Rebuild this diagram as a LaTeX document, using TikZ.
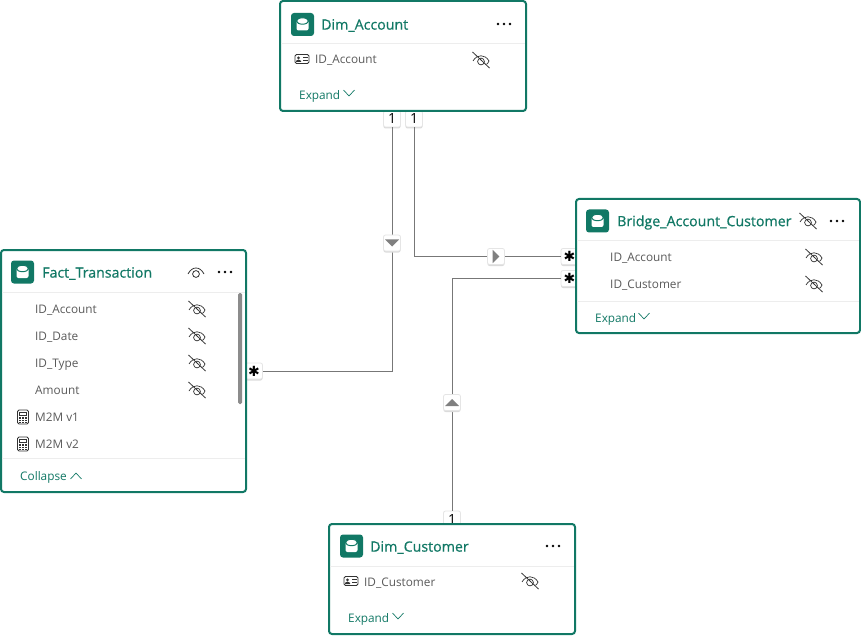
\documentclass[tikz,border=0pt]{standalone}
\usepackage{fontspec}
\setmainfont{Open Sans}
\newfontfamily\starfont{DejaVu Sans}
\newfontfamily\titlefont[FakeBold=0.6]{Open Sans}
\usetikzlibrary{calc,shadows}
\definecolor{tealline}{HTML}{117865}
\definecolor{fieldgray}{HTML}{5A5A5A}
\definecolor{linegray}{HTML}{777777}
\definecolor{iconblack}{HTML}{333333}
\tikzset{
	tablebox/.style={draw=tealline, line width=2pt, rounded corners=3pt, fill=white, inner sep=0pt},
	titletext/.style={anchor=west, inner sep=0pt, text=tealline, font=\titlefont\fontsize{14.2}{16}\selectfont},
	fieldtext/.style={anchor=west, inner sep=0pt, text height=10pt, text depth=2pt, text=fieldgray, font=\fontsize{11.8}{14}\selectfont},
	linktext/.style={anchor=west, inner sep=0pt, text=tealline, font=\fontsize{11.8}{14}\selectfont},
	badge/.style={draw=black!10, line width=0.8pt, fill=white, rounded corners=2pt, minimum width=17pt, minimum height=16pt, inner sep=0pt, font=\fontsize{14}{14}\selectfont, text=black, general shadow={shadow yshift=-1.5pt, fill=black!14}},
	starbadge/.style={badge, font=\starfont\fontsize{14}{14}\selectfont},
	relation/.style={line width=1pt, color=linegray},
	divider/.style={line width=0.8pt, color=black!7},
	databaseicon/.pic={
		\fill[tealline, rounded corners=3pt] (-11.5,-11.5) rectangle (11.5,11.5);
		\fill[white, rounded corners=2pt] (-6,-4) rectangle (6,6);
		\draw[tealline, line width=1pt, fill=white] (0,-3.5) ellipse [x radius=6pt, y radius=3.2pt];
	},
	eyeoff/.pic={
		\draw[iconblack, line width=0.7pt] (-8,1) .. controls (-4,-6) and (4,-6) .. (8,1) .. controls (7.5,2) and (6.5,4) .. (5.5,4.5);
		\draw[iconblack, line width=0.7pt] (0,1.5) circle [radius=3.4pt];
		\draw[iconblack, line width=0.8pt] (-8.5,-8) -- (8.5,8);
	},
	eyeon/.pic={
		\draw[iconblack, line width=0.8pt] (-8,2) .. controls (-4,-6) and (4,-6) .. (8,2);
		\draw[iconblack, line width=0.8pt] (0,2) circle [radius=3.4pt];
	},
	moredots/.pic={
		\foreach \dx in {-6,0,6} \fill[black] (\dx,0) circle [radius=1.4pt];
	},
	idcard/.pic={
		\draw[iconblack, line width=0.8pt, rounded corners=1.5pt] (-7,-4.5) rectangle (7,4.5);
		\fill[iconblack] (-3.5,-1.2) circle [radius=1.5pt];
		\fill[iconblack] (-6,3) -- (-6,1.8) -- (-3.5,0.6) -- (-1,1.8) -- (-1,3) -- cycle;
		\draw[iconblack, line width=0.7pt] (1,-1.5) -- (5.5,-1.5) (1,1.5) -- (5.5,1.5);
	},
	calcicon/.pic={
		\draw[iconblack, line width=0.8pt, rounded corners=1.5pt] (-5.5,-7) rectangle (5.5,7);
		\draw[iconblack, line width=0.7pt] (-3.2,-4.5) rectangle (3.2,-1.8);
		\foreach \dx in {-3,0,3} \foreach \dy in {1,3.2,5.2} \fill[iconblack] (\dx-0.8,\dy-0.7) rectangle (\dx+0.8,\dy+0.7);
	},
	chevrondown/.pic={\draw[tealline, line width=0.7pt] (-5.5,-2.8) -- (0,2.8) -- (5.5,-2.8);},
	chevronup/.pic={\draw[tealline, line width=0.7pt] (-5.5,2.8) -- (0,-2.8) -- (5.5,2.8);},
	dirmark/.pic={\fill[black!50] (-7,3.5) -- (7,3.5) -- (0,-3.5) -- cycle;}
}
\begin{document}
\begin{tikzpicture}[x=1pt, y=-1pt]
	\useasboundingbox (0,0) rectangle (861,636);
	%%%%% BADGES AND RELATIONS %%%%%
	\node[badge] (oneaccounta) at (392,119) {1};
	\node[badge] (oneaccountb) at (414,119) {1};
	\node[badge] (onecustomer) at (452,519) {1};
	\node[starbadge] (starfact) at (254,371) {✱};
	\node[starbadge] (starbridgea) at (569.5,256.5) {✱};
	\node[starbadge] (starbridgeb) at (569.5,278.5) {✱};
	
	\draw[relation] (oneaccounta.south) |- (starfact.east);
	\draw[relation] (oneaccountb.south) |- (starbridgea.west);
	\draw[relation] (onecustomer.north) |- (starbridgeb.west);
	
	\node[badge] (dirfact) at (392,243) {};
	\pic[rotate=180] at (392,243) {dirmark};
	\node[badge] (dirbridge) at (496,256.5) {};
	\pic[rotate=270, scale=0.95] at (496,256.5) {dirmark};
	\node[badge] (dircustomer) at (452,402.5) {};
	\pic at (452,402.5) {dirmark};
	
	%%%%% DIM ACCOUNT %%%%%
	\node[tablebox, minimum width=246pt, minimum height=110pt] (dimaccount) at (403,56) {};
	\draw[divider] (281,43) -- (525,43);
	\pic at (302.5,24.5) {databaseicon};
	\node[titletext] (dimaccounttitle) at (321,25.5) {Dim\_Account};
	\pic at (504,24) {moredots};
	\pic at (302,59) {idcard};
	\node[fieldtext] (dimaccountid) at (315,60) {ID\_Account};
	\pic at (481,60) {eyeoff};
	\node[linktext] (dimaccountmore) at (299,96) {Expand};
	\pic at (349,93) {chevrondown};
	
	%%%%% FACT TRANSACTION %%%%%
	\node[tablebox, minimum width=245pt, minimum height=242pt] (fact) at (123.5,371) {};
	\draw[divider] (2,292) -- (245,292);
	\draw[divider] (2,458) -- (245,458);
	\pic at (22.5,272) {databaseicon};
	\node[titletext] (facttitle) at (42,273.5) {Fact\_Transaction};
	\pic at (196,272) {eyeon};
	\pic at (225,272) {moredots};
	\node[fieldtext] (factaccount) at (35,309) {ID\_Account};
	\node[fieldtext] (factdate) at (35,336) {ID\_Date};
	\node[fieldtext] (facttype) at (35,363) {ID\_Type};
	\node[fieldtext] (factamount) at (35,390) {Amount};
	\node[fieldtext] (factmone) at (35,417) {M2M v1};
	\node[fieldtext] (factmtwo) at (35,444) {M2M v2};
	\foreach \y in {309,336,363,390} \pic at (197,\y) {eyeoff};
	\pic at (23,417) {calcicon};
	\pic at (23,444) {calcicon};
	\fill[black!45, rounded corners=1.5pt] (238,293) rectangle (242,404);
	\node[linktext] (factmore) at (20,477) {Collapse};
	\pic at (76,476) {chevronup};
	
	%%%%% BRIDGE %%%%%
	\node[tablebox, minimum width=284pt, minimum height=134pt] (bridge) at (718,266) {};
	\draw[divider] (577,240) -- (859,240);
	\draw[divider] (577,301) -- (859,301);
	\pic at (597.5,221) {databaseicon};
	\node[titletext] (bridgetitle) at (617,222.5) {Bridge\_Account\_Customer};
	\pic at (808,221) {eyeoff};
	\pic at (837,221) {moredots};
	\node[fieldtext] (bridgeaccount) at (610,257) {ID\_Account};
	\node[fieldtext] (bridgecustomer) at (610,284) {ID\_Customer};
	\pic at (814,257) {eyeoff};
	\pic at (814,284) {eyeoff};
	\node[linktext] (bridgemore) at (595,319) {Expand};
	\pic at (644,316) {chevrondown};
	
	%%%%% DIM CUSTOMER %%%%%
	\node[tablebox, minimum width=246pt, minimum height=110pt] (dimcustomer) at (452,579) {};
	\draw[divider] (330,566) -- (574,566);
	\pic at (351.5,546) {databaseicon};
	\node[titletext] (dimcustomertitle) at (370,547.5) {Dim\_Customer};
	\pic at (553,546) {moredots};
	\pic at (351,581) {idcard};
	\node[fieldtext] (dimcustomerid) at (364,582) {ID\_Customer};
	\pic at (530,581) {eyeoff};
	\node[linktext] (dimcustomermore) at (348,619) {Expand};
	\pic at (398,616) {chevrondown};
\end{tikzpicture}
\end{document}
